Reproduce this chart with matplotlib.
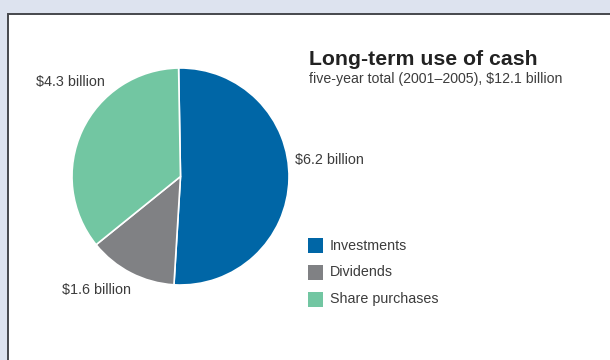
import matplotlib
matplotlib.use('Agg')
import matplotlib.pyplot as plt
from matplotlib.patches import Rectangle

plt.rcParams['font.family'] = ['Liberation Sans', 'DejaVu Sans']

# five-year totals, $ billion
categories = ['Investments', 'Dividends', 'Share purchases']
amounts = [6.2, 1.6, 4.3]
colors = ['#0066a6', '#808184', '#72c6a2']
title = 'Long-term use of cash'
subtitle = 'five-year total (2001\u20132005), $12.1 billion'

W, H = 610, 360
fig = plt.figure(figsize=(W / 100, H / 100), dpi=100, facecolor='#dde3ef')

def px(x, y):
    # pixel coords (origin top-left) -> figure fraction
    return x / W, 1 - y / H

# white panel with dark frame, kept behind the pie axes
x0, y0 = px(8, 14)
fig.patches.append(Rectangle((x0, -0.1), 1.2, y0 + 0.1, transform=fig.transFigure,
                             facecolor='white', edgecolor='#45474c', linewidth=1.4,
                             zorder=-1))

# pie
cx, cy, r = 180.5, 176.5, 108.5
ax = fig.add_axes([(cx - r) / W, 1 - (cy + r) / H, 2 * r / W, 2 * r / H])
ax.pie(amounts, colors=colors, startangle=91, counterclock=False,
       wedgeprops=dict(edgecolor='white', linewidth=1.2))
ax.set_xlim(-1, 1)
ax.set_ylim(-1, 1)
ax.set_aspect('equal')
ax.axis('off')

# value labels
label_pos = {'Investments': (295, 160, 'left'),
             'Dividends': (62, 290, 'left'),
             'Share purchases': (36, 82, 'left')}
for name, v in zip(categories, amounts):
    lx, ly, ha = label_pos[name]
    fig.text(*px(lx, ly), f'${v} billion', ha=ha, va='center',
             fontsize=10.4, color='#3c3c3c')

# title block
fig.text(*px(309, 65), title, fontsize=15.3, fontweight='bold',
         color='#222222', va='baseline')
fig.text(*px(309, 83), subtitle, fontsize=10.2, color='#3c3c3c', va='baseline')

# legend
for i, (name, c) in enumerate(zip(categories, colors)):
    yc = 245.5 + i * 27
    sx, sy = px(308, yc + 7.5)
    fig.patches.append(Rectangle((sx, sy), 15 / W, 15 / H,
                                 transform=fig.transFigure, facecolor=c,
                                 edgecolor='none'))
    fig.text(*px(330, yc), name, fontsize=10.3, color='#3c3c3c', va='center')

fig.savefig('out.png', dpi=100, facecolor=fig.get_facecolor())
